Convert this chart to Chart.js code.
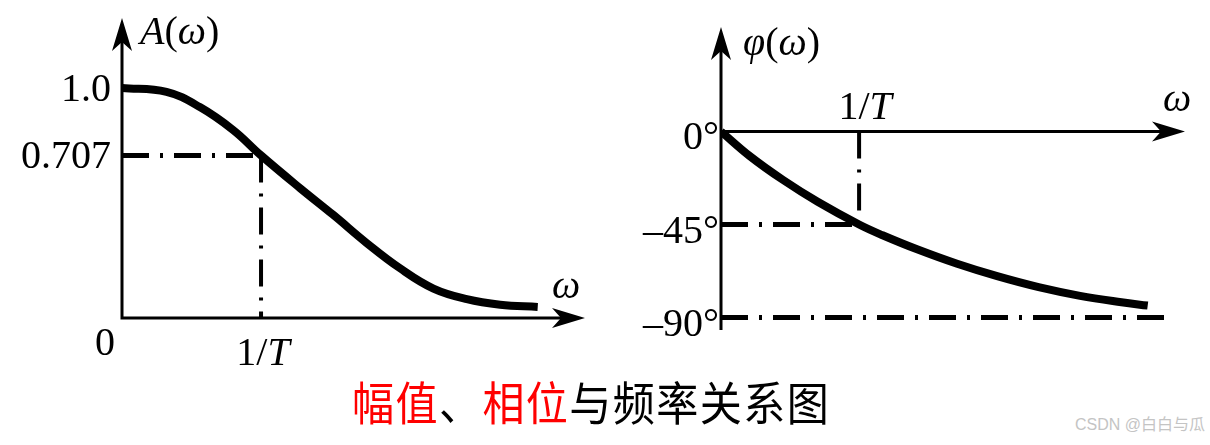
<!DOCTYPE html>
<html>
<head>
<meta charset="utf-8">
<script src="https://cdn.jsdelivr.net/npm/chart.js@4.4.1/dist/chart.umd.min.js"></script>
<style>
  body { margin: 0; background: #fff; width: 1210px; height: 445px; overflow: hidden; position: relative; }
  canvas { position: absolute; top: 0; }
  #ampChart { left: 0; }
  #phaseChart { left: 600px; }
  #caption {
    position: absolute; left: 352px; top: 377px;
    font-family: "Noto Sans CJK SC", sans-serif; font-size: 46px; line-height: 46px;
    letter-spacing: 1.5px; color: #000; white-space: nowrap;
    transform: scaleX(0.915); transform-origin: left center;
  }
  #caption .red { color: #ff0000; }
  #mark {
    position: absolute; left: 1075px; top: 416px;
    font-family: "Liberation Sans", "Noto Sans CJK SC", sans-serif; font-size: 16px; line-height: 18px;
    color: #c4c4c4; white-space: nowrap;
  }
</style>
</head>
<body>
<canvas id="ampChart" width="600" height="380"></canvas>
<canvas id="phaseChart" width="610" height="380"></canvas>
<div id="caption"><span class="red">幅值</span>、<span class="red">相位</span>与频率关系图</div>
<div id="mark">CSDN @白白与瓜</div>
<script>
// amplitude curve A(w), w in units of 1/T
const ampOmega = [0, 0.32, 0.56, 0.80, 1.0, 1.28, 1.52, 1.76, 2.0, 2.24, 2.48, 2.72, 2.99];
const ampValue = [1.0, 0.983, 0.917, 0.817, 0.707, 0.565, 0.448, 0.326, 0.216, 0.128, 0.082, 0.058, 0.048];

// phase curve phi(w) in degrees
const phaseOmega = [0, 0.21, 0.45, 0.70, 1.0, 1.17, 1.42, 1.71, 2.0, 2.3, 2.6, 2.9, 3.09];
const phaseValue = [0, -12, -23.5, -34, -45, -50.2, -57, -64, -70, -75.3, -79.5, -82.6, -84.2];

// reference (dash-dot) levels
const cutoffOmega = 1;
const ampCutoff = 0.707;
const phaseCutoff = -45;
const phaseFloor = -90;
const phaseFloorEnd = 3.22;

// tick labels
const ampTicks = [1.0, 0.707];
const ampTickLabels = ['1.0', '0.707'];
const phaseTicks = [0, -45, -90];
const phaseTickLabels = ['0°', '–45°', '–90°'];

const serif = '"Liberation Serif", "Times New Roman", serif';
const dashDot = [27, 11, 3, 11];

function toPoints(xs, ys) {
    return xs.map((x, i) => ({ x: x, y: ys[i] }));
}

// draw text made of upright / italic pieces
function drawRich(ctx, parts, x, y, align) {
    let total = 0;
    parts.forEach(p => {
        ctx.font = (p.it ? 'italic ' : '') + '40px ' + serif;
        p.w = ctx.measureText(p.t).width;
        total += p.w;
    });
    let cx = x;
    if (align === 'right') cx = x - total;
    if (align === 'center') cx = x - total / 2;
    ctx.textAlign = 'left';
    ctx.textBaseline = 'alphabetic';
    parts.forEach(p => {
        ctx.font = (p.it ? 'italic ' : '') + '40px ' + serif;
        ctx.fillText(p.t, cx, y);
        cx += p.w;
    });
}

function arrowHead(ctx, tx, ty, dir) {
    ctx.save();
    ctx.translate(tx, ty);
    if (dir === 'up') ctx.rotate(-Math.PI / 2);
    ctx.beginPath();
    ctx.moveTo(0, 0);
    ctx.lineTo(-33, -10);
    ctx.lineTo(-24, 0);
    ctx.lineTo(-33, 10);
    ctx.closePath();
    ctx.fill();
    ctx.restore();
}

function makeAxesPlugin(xAxisAt, labels) {
    return {
        id: 'arrowAxes',
        beforeDatasetsDraw(chart) {
            const ctx = chart.ctx;
            const xs = chart.scales.x, ys = chart.scales.y;
            const ox = xs.getPixelForValue(0);
            const oy = ys.getPixelForValue(xAxisAt);
            ctx.save();
            ctx.strokeStyle = '#000';
            ctx.fillStyle = '#000';
            ctx.lineWidth = 3;
            ctx.beginPath();
            ctx.moveTo(ox, ys.bottom);
            ctx.lineTo(ox, ys.top + 20);
            ctx.moveTo(ox - 1.5, oy);
            ctx.lineTo(xs.right - 20, oy);
            ctx.stroke();
            arrowHead(ctx, ox, ys.top - 1, 'up');
            arrowHead(ctx, xs.right, oy, 'right');
            ctx.restore();
        },
        afterDraw(chart) {
            const ctx = chart.ctx;
            ctx.save();
            ctx.fillStyle = '#000';
            labels(chart.scales.x, chart.scales.y).forEach(l => drawRich(ctx, l.parts, l.x, l.y, l.align));
            ctx.restore();
        }
    };
}

function refLine(points) {
    return {
        data: points,
        borderColor: '#000',
        borderWidth: 5,
        borderDash: dashDot,
        pointRadius: 0,
        tension: 0,
        order: 2
    };
}

function curve(points) {
    return {
        data: points,
        borderColor: '#000',
        borderWidth: 8,
        pointRadius: 0,
        tension: 0.4,
        borderCapStyle: 'butt',
        order: 0
    };
}

function baseOptions(xMax, yMin, yMax, pad) {
    return {
        responsive: false,
        animation: false,
        events: [],
        layout: { padding: pad },
        plugins: { legend: { display: false }, tooltip: { enabled: false } },
        scales: {
            x: { type: 'linear', display: false, min: 0, max: xMax },
            y: { type: 'linear', display: false, min: yMin, max: yMax }
        }
    };
}

// left: amplitude
new Chart(document.getElementById('ampChart'), {
    type: 'line',
    data: {
        datasets: [
            curve(toPoints(ampOmega, ampValue)),
            refLine([{ x: 0, y: ampCutoff }, { x: cutoffOmega, y: ampCutoff }]),
            Object.assign(refLine([{ x: cutoffOmega, y: ampCutoff }, { x: cutoffOmega, y: 0 }]), { borderWidth: 4 })
        ]
    },
    options: baseOptions(3.33, 0, 1.3, { left: 122, right: 15, top: 19, bottom: 62 }),
    plugins: [makeAxesPlugin(0, (xs, ys) => {
        const ox = xs.getPixelForValue(0), oy = ys.getPixelForValue(0);
        const out = ampTicks.map((v, i) => ({
            parts: [{ t: ampTickLabels[i] }], x: ox - 11, y: ys.getPixelForValue(v) + 13, align: 'right'
        }));
        out.push({ parts: [{ t: '0' }], x: ox - 17, y: oy + 37, align: 'center' });
        out.push({ parts: [{ t: '1/' }, { t: 'T', it: true }], x: xs.getPixelForValue(cutoffOmega) + 2, y: oy + 47, align: 'center' });
        out.push({ parts: [{ t: 'ω', it: true }], x: xs.right - 33, y: oy - 20, align: 'left' });
        out.push({ parts: [{ t: 'A', it: true }, { t: '(' }, { t: 'ω', it: true }, { t: ')' }], x: ox + 18, y: 44, align: 'left' });
        return out;
    })]
});

// right: phase
new Chart(document.getElementById('phaseChart'), {
    type: 'line',
    data: {
        datasets: [
            curve(toPoints(phaseOmega, phaseValue)),
            refLine([{ x: 0, y: phaseCutoff }, { x: cutoffOmega, y: phaseCutoff }]),
            Object.assign(refLine([{ x: cutoffOmega, y: 0 }, { x: cutoffOmega, y: phaseCutoff }]), { borderWidth: 4 }),
            refLine([{ x: 0, y: phaseFloor }, { x: phaseFloorEnd, y: phaseFloor }])
        ]
    },
    options: baseOptions(3.36, -96, 50, { left: 121, right: 25, top: 28, bottom: 50 }),
    plugins: [makeAxesPlugin(0, (xs, ys) => {
        const ox = xs.getPixelForValue(0), oy = ys.getPixelForValue(0);
        const out = phaseTicks.map((v, i) => ({
            parts: [{ t: phaseTickLabels[i] }], x: ox - 2, y: ys.getPixelForValue(v) + 18, align: 'right'
        }));
        out.push({ parts: [{ t: '1/' }, { t: 'T', it: true }], x: xs.getPixelForValue(cutoffOmega) + 6, y: oy - 12, align: 'center' });
        out.push({ parts: [{ t: 'ω', it: true }], x: xs.right - 22, y: oy - 20, align: 'left' });
        out.push({ parts: [{ t: 'φ', it: true }, { t: '(' }, { t: 'ω', it: true }, { t: ')' }], x: ox + 22, y: 55, align: 'left' });
        return out;
    })]
});
</script>
</body>
</html>
